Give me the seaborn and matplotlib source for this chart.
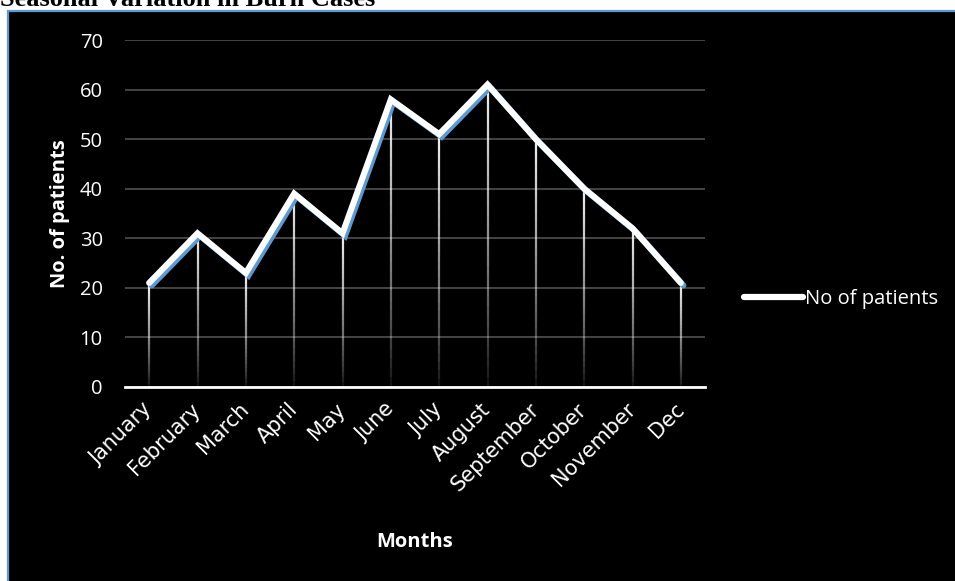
import matplotlib
matplotlib.use("Agg")
import matplotlib.pyplot as plt
import matplotlib.patheffects as pe
from matplotlib.patches import Rectangle
import numpy as np
import pandas as pd
import seaborn as sns

months = ["January", "February", "March", "April", "May", "June", "July",
          "August", "September", "October", "November", "Dec"]
patients = [21, 31, 23, 39, 31, 58, 51, 61, 50, 40, 32, 21]
y_ticks = [0, 10, 20, 30, 40, 50, 60, 70]
title = "Seasonal Variation in Burn Cases"
series_name = "No of patients"

sns.set_theme(style="white")
plt.rcParams["font.family"] = ["Open Sans", "DejaVu Sans"]

W, H = 955, 581
fig = plt.figure(figsize=(W / 100, H / 100), dpi=100)
fig.patch.set_facecolor("white")

# background panel: black chart box with blue border
bg = fig.add_axes([0, 0, 1, 1], zorder=-10)
bg.set_axis_off()
bg.set_xlim(0, W)
bg.set_ylim(H, 0)
bg.add_patch(Rectangle((8, 10.5), W, H, facecolor="black",
                       edgecolor="#5B9BD5", linewidth=1.6))

fig.text(0.0, 1 - 6 / H, title, family="Liberation Serif", weight="bold",
         fontsize=19, color="black", ha="left", va="baseline", zorder=-5)

ax = fig.add_axes([125 / W, 1 - 387 / H, 580 / W, (387 - 40) / H], zorder=1)
ax.set_facecolor("none")

df = pd.DataFrame({"Month": months, "Patients": patients})
x = np.arange(len(months))

# gradient drop lines
nseg = 30
for xi, v in zip(x, patients):
    edges = np.linspace(0, v, nseg + 1)
    for k in range(nseg):
        a = 0.05 + 0.9 * ((k + 0.5) / nseg) ** 0.8
        ax.plot([xi, xi], [edges[k], edges[k + 1]], color="white", alpha=a,
                lw=1.6, solid_capstyle="butt", zorder=2)

sns.lineplot(data=df, x="Month", y="Patients", sort=False, ax=ax,
             color="white", lw=4.4, zorder=4, label=series_name,
             path_effects=[pe.SimpleLineShadow(offset=(1.8, -1.8),
                                               shadow_color="#5B9BD5", alpha=1.0),
                           pe.Normal()])
for l in ax.lines:
    l.set_solid_joinstyle("miter")

ax.set_xlim(-0.5, len(months) - 0.5)
ax.set_ylim(0, 70)
ax.set_yticks(y_ticks)
ax.set_yticklabels([str(t) for t in y_ticks], fontsize=14.5, color="white")
ax.set_xticks(x)
ax.set_xticklabels(months, fontsize=15, color="white", rotation=45,
                   ha="right", va="center", rotation_mode="anchor",
                   family=["DejaVu Sans"])
ax.tick_params(axis="y", length=0, pad=16)
ax.tick_params(axis="x", length=0, pad=14)

ax.grid(axis="y", color="#4a4a4a", lw=1.3, zorder=1)
ax.grid(axis="x", visible=False)
for s in ["top", "right", "left"]:
    ax.spines[s].set_visible(False)
ax.spines["bottom"].set_color("white")
ax.spines["bottom"].set_linewidth(2.0)
ax.spines["bottom"].set_zorder(5)

ax.set_ylabel("No. of patients", fontsize=14.5, weight="bold", color="white")
ax.yaxis.set_label_coords((60 - 125) / 580, 0.5)
ax.yaxis.label.set_va("center")
ax.set_xlabel("Months", fontsize=14.5, weight="bold", color="white")
ax.xaxis.set_label_coords(0.5, (387 - 542) / 347)
ax.xaxis.label.set_va("center")

leg = ax.legend(loc="center left", bbox_to_anchor=(726 / W, 1 - 299 / H),
                bbox_transform=fig.transFigure, frameon=False, fontsize=14.5,
                handlelength=2.9, handletextpad=0.1, labelcolor="white")
for h in leg.get_lines():
    h.set_path_effects([])
    h.set_linewidth(4.5)

fig.savefig("out.png", dpi=100, facecolor=fig.get_facecolor())
